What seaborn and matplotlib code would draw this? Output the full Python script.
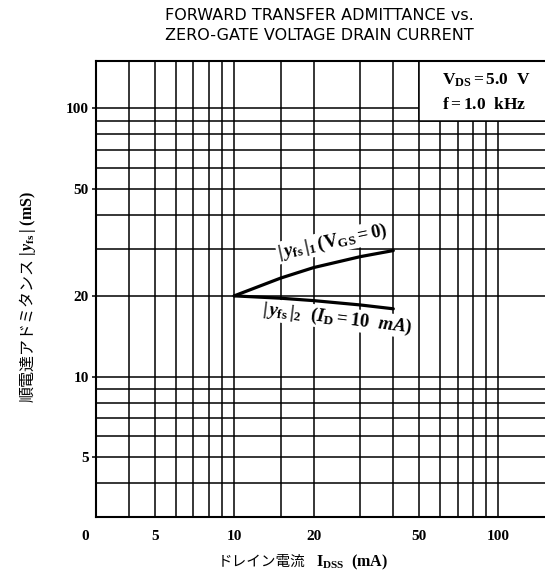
import numpy as np
import pandas as pd
import seaborn as sns
import matplotlib.pyplot as plt
from matplotlib.patches import Rectangle
from matplotlib.ticker import NullFormatter
from matplotlib.transforms import ScaledTranslation

# curves (IDSS in mA, |yfs| in mS)
idss_1 = [10, 15, 20, 30, 40]
yfs_1 = [20.0, 23.3, 25.5, 28.0, 29.5]
idss_2 = [10, 15, 20, 30, 40]
yfs_2 = [20.0, 19.6, 19.2, 18.5, 17.9]

x_major = [3, 5, 10, 20, 50, 100]
x_labels = ['0', '5', '10', '20', '50', '100']
x_minor = [4, 6, 7, 8, 9, 15, 30, 40, 60, 70, 80, 90]
y_major = [5, 10, 20, 50, 100]
y_labels = ['5', '10', '20', '50', '100']
y_minor = [4, 6, 7, 8, 9, 30, 40, 60, 70, 80, 90]

df = pd.DataFrame({
    'idss': idss_1 + idss_2,
    'yfs': yfs_1 + yfs_2,
    'curve': ['1'] * len(idss_1) + ['2'] * len(idss_2),
})

sns.set_theme(style='white')
plt.rcParams['font.family'] = ['Liberation Serif', 'Noto Sans CJK JP']
plt.rcParams['font.weight'] = 'bold'
plt.rcParams['text.color'] = 'black'
plt.rcParams['xtick.color'] = 'black'
plt.rcParams['ytick.color'] = 'black'
plt.rcParams['mathtext.fontset'] = 'custom'
plt.rcParams['mathtext.rm'] = 'Liberation Serif:bold'
plt.rcParams['mathtext.it'] = 'Liberation Serif:italic:bold'
plt.rcParams['mathtext.bf'] = 'Liberation Serif:bold'

W, H = 545, 571
fig = plt.figure(figsize=(W / 100, H / 100), dpi=100)
ax = fig.add_axes([96 / W, 1 - 517 / H, 1 - 96 / W, (517 - 61) / H])

sns.lineplot(data=df, x='idss', y='yfs', hue='curve', palette=['black', 'black'],
             linewidth=2.3, legend=False, ax=ax, zorder=2)

ax.set_xscale('log')
ax.set_yscale('log')
ax.set_xlim(3, 150)
ax.set_ylim(3, 150)
ax.set_xticks(x_major, x_labels)
ax.set_xticks(x_minor, minor=True)
ax.set_yticks(y_major, y_labels)
ax.set_yticks(y_minor, minor=True)
ax.xaxis.set_minor_formatter(NullFormatter())
ax.yaxis.set_minor_formatter(NullFormatter())
ax.set_xlabel('')
ax.set_ylabel('')

ax.set_axisbelow(True)
ax.grid(True, which='both', color='black', linewidth=1.1)
ax.tick_params(axis='x', which='both', length=0, pad=9, labelsize=11)
ax.tick_params(axis='y', which='major', length=3, width=1.1, pad=2, labelsize=11, left=True)
ax.tick_params(axis='y', which='minor', length=0)
for s in ['left', 'top', 'bottom']:
    ax.spines[s].set_color('black')
    ax.spines[s].set_linewidth(1.5)
ax.spines['right'].set_visible(False)

# first x label sits left of the frame in the scan
lbl0 = ax.get_xticklabels()[0]
lbl0.set_transform(lbl0.get_transform() + ScaledTranslation(-0.11, 0, fig.dpi_scale_trans))

# condition box top right
ax.add_patch(Rectangle((50, 90), 110, 70, facecolor='white', edgecolor='black',
                       linewidth=1.1, zorder=1.5))
ax.text(61, 127, r'$\mathrm{V_{DS}}=5.0\ \ \mathrm{V}$', fontsize=12.5, va='center', zorder=3)
ax.text(61, 103, r'$\mathrm{f}=1.0\ \ \mathrm{kHz}$', fontsize=12.5, va='center', zorder=3)

# curve labels (white backing breaks the grid, curves stay on top)
ax.text(23.5, 31.8, r'$|\,y_{\mathrm{fs}}\,|_1\,(\mathrm{V_{GS}}=0)$', fontsize=13.5,
        rotation=12, ha='center', va='center', zorder=1.8,
        bbox=dict(facecolor='white', edgecolor='none', pad=0.5))
ax.text(24.5, 16.5, r'$|\,y_{\mathrm{fs}}\,|_2\ \ (I_\mathrm{D}=10\ \ mA)$', fontsize=13.5,
        rotation=-7, ha='center', va='center', zorder=1.8,
        bbox=dict(facecolor='white', edgecolor='none', pad=0.5))

# title
fig.text(319 / W, 1 - 8 / H, 'FORWARD TRANSFER ADMITTANCE vs.\nZERO-GATE VOLTAGE DRAIN CURRENT',
         ha='center', va='top', fontsize=11.5, linespacing=1.45, fontweight='normal',
         family=['Liberation Sans Narrow', 'DejaVu Sans'])

# axis labels, Japanese part and symbol part kept apart for the fonts
fig.text(305 / W, 1 - 566 / H, 'ドレイン電流', ha='right', va='baseline', fontsize=10.5,
         family=['Noto Sans CJK JP', 'DejaVu Sans'], fontweight='normal')
fig.text(316 / W, 1 - 566 / H, r'$\mathrm{I_{DSS}}$  (mA)', ha='left', va='baseline', fontsize=11.5)

fig.text(28 / W, 1 - 258 / H, '順電達アドミタンス', rotation=90, ha='center', va='top',
         fontsize=11.5, family=['Noto Sans CJK JP', 'DejaVu Sans'], fontweight='normal')
fig.text(28 / W, 1 - 256 / H, r'$|\,y_{\mathrm{fs}}\,|$ (mS)', rotation=90, ha='center',
         va='bottom', fontsize=11.5)

fig.savefig('out.png', dpi=100, facecolor='white')
